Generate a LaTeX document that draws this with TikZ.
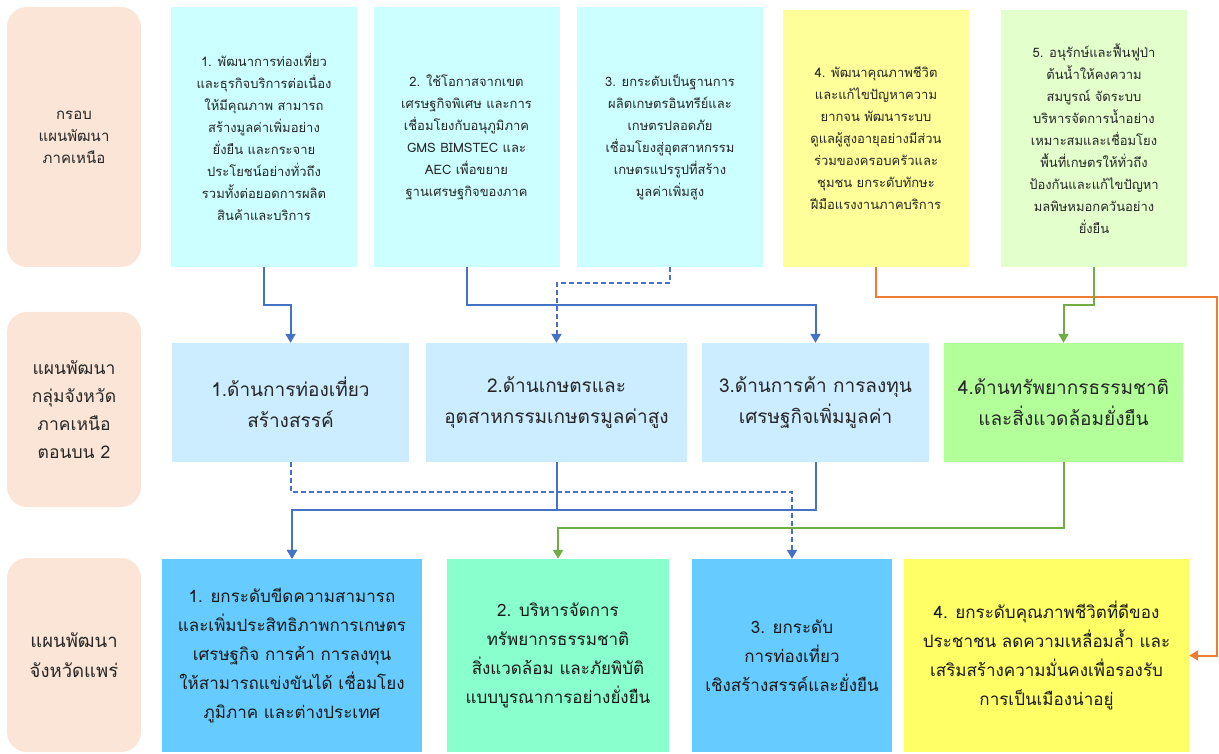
\documentclass[tikz,border=0pt]{standalone}
\usepackage{fontspec}
\setmainfont[Script=Thai]{Loma}
\usepackage{xcolor}
\usepackage{tikz}
\usetikzlibrary{arrows.meta,positioning,calc}
\definecolor{boxpeach}{RGB}{251,229,214}
\definecolor{boxcyan}{RGB}{204,255,255}
\definecolor{boxlemon}{RGB}{255,255,153}
\definecolor{boxpale}{RGB}{226,255,204}
\definecolor{boxsky}{RGB}{204,236,255}
\definecolor{boxlime}{RGB}{179,255,153}
\definecolor{boxblue}{RGB}{102,204,255}
\definecolor{boxmint}{RGB}{136,255,204}
\definecolor{boxyellow}{RGB}{255,255,102}
\definecolor{lineblue}{RGB}{68,114,196}
\definecolor{lineorange}{RGB}{237,125,49}
\definecolor{linegreen}{RGB}{112,173,71}
\tikzset{
  sidebox/.style={
    rectangle,
    rounded corners=20pt,
    fill=boxpeach,
    inner sep=0pt,
    minimum width=134pt,
    minimum height=195pt,
    align=center,
    text=black!85,
    font=\fontsize{17.5}{28}\selectfont
  },
  goalbox/.style={
    rectangle,
    fill=boxcyan,
    inner sep=0pt,
    minimum width=186pt,
    minimum height=260pt,
    align=center,
    text=black!85,
    font=\fontsize{13}{22}\selectfont
  },
  clusterbox/.style={
    rectangle,
    fill=boxsky,
    inner sep=0pt,
    minimum height=119pt,
    align=center,
    text=black!85,
    font=\fontsize{19}{31}\selectfont
  },
  provbox/.style={
    rectangle,
    fill=boxblue,
    inner sep=0pt,
    minimum height=193pt,
    align=center,
    text=black!90,
    font=\fontsize{17}{29}\selectfont
  },
  flow/.style={-{Triangle[width=10pt,length=9pt]}, line width=2pt, lineblue},
  dashflow/.style={-{Triangle[width=10pt,length=9pt]}, line width=2pt, lineblue, dash pattern=on 5pt off 3pt},
  orangeflow/.style={-{Triangle[width=10pt,length=9pt]}, line width=2pt, lineorange},
  greenflow/.style={-{Triangle[width=10pt,length=9pt]}, line width=2pt, linegreen}
}
\begin{document}
\begin{tikzpicture}[x=1pt,y=-1pt]
\useasboundingbox (0,0) rectangle (1219,754);
\node[sidebox, minimum height=260pt, font=\fontsize{15}{22}\selectfont] (lnorth) at (74,137) {กรอบ\\แผนพัฒนา\\ภาคเหนือ};
\node[sidebox] (lcluster) at (74,409.5) {แผนพัฒนา\\กลุ่มจังหวัด\\ภาคเหนือ\\ตอนบน 2};
\node[sidebox, minimum height=194pt, font=\fontsize{18.5}{30}\selectfont] (lprov) at (74,655) {แผนพัฒนา\\จังหวัดแพร่};

\node[goalbox] (t1) at (264,137) {1. พัฒนาการท่องเที่ยว\\และธุรกิจบริการต่อเนื่อง\\ให้มีคุณภาพ  สามารถ\\สร้างมูลค่าเพิ่มอย่าง\\ยั่งยืน และกระจาย\\ประโยชน์อย่างทั่วถึง\\รวมทั้งต่อยอดการผลิต\\สินค้าและบริการ};
\node[goalbox] (t2) at (466.5,137) {2. ใช้โอกาสจากเขต\\เศรษฐกิจพิเศษ  และการ\\เชื่อมโยงกับอนุภูมิภาค\\GMS BIMSTEC และ\\AEC เพื่อขยาย\\ฐานเศรษฐกิจของภาค};
\node[goalbox] (t3) at (670,137) {3. ยกระดับเป็นฐานการ\\ผลิตเกษตรอินทรีย์และ\\เกษตรปลอดภัย\\เชื่อมโยงสู่อุตสาหกรรม\\เกษตรแปรรูปที่สร้าง\\มูลค่าเพิ่มสูง};
\node[goalbox, fill=boxlemon, minimum height=257pt] (t4) at (876,138.5) {4. พัฒนาคุณภาพชีวิต\\และแก้ไขปัญหาความ\\ยากจน  พัฒนาระบบ\\ดูแลผู้สูงอายุอย่างมีส่วน\\ร่วมของครอบครัวและ\\ชุมชน  ยกระดับทักษะ\\ฝีมือแรงงานภาคบริการ};
\node[goalbox, fill=boxpale, minimum height=257pt] (t5) at (1094,138.5) {5. อนุรักษ์และฟื้นฟูป่า\\ต้นน้ำให้คงความ\\สมบูรณ์  จัดระบบ\\บริหารจัดการน้ำอย่าง\\เหมาะสมและเชื่อมโยง\\พื้นที่เกษตรให้ทั่วถึง\\ป้องกันและแก้ไขปัญหา\\มลพิษหมอกควันอย่าง\\ยั่งยืน};

\node[clusterbox, minimum width=237pt] (m1) at (290.5,402.5) {1.ด้านการท่องเที่ยว\\สร้างสรรค์};
\node[clusterbox, minimum width=261pt] (m2) at (556.5,402.5) {2.ด้านเกษตรและ\\อุตสาหกรรมเกษตรมูลค่าสูง};
\node[clusterbox, minimum width=227pt] (m3) at (815.5,402.5) {3.ด้านการค้า การลงทุน\\เศรษฐกิจเพิ่มมูลค่า};
\node[clusterbox, fill=boxlime, minimum width=239pt] (m4) at (1063.5,402.5) {4.ด้านทรัพยากรธรรมชาติ\\และสิ่งแวดล้อมยั่งยืน};

\node[provbox, minimum width=260pt] (b1) at (292,655.5) {1. ยกระดับขีดความสามารถ\\และเพิ่มประสิทธิภาพการเกษตร\\เศรษฐกิจ การค้า การลงทุน\\ให้สามารถแข่งขันได้ เชื่อมโยง\\ภูมิภาค และต่างประเทศ};
\node[provbox, fill=boxmint, minimum width=222pt] (b2) at (558,655.5) {2. บริหารจัดการ\\ทรัพยากรธรรมชาติ\\สิ่งแวดล้อม และภัยพิบัติ\\แบบบูรณาการอย่างยั่งยืน};
\node[provbox, minimum width=200pt] (b3) at (792,655.5) {3. ยกระดับ\\การท่องเที่ยว\\เชิงสร้างสรรค์และยั่งยืน};
\node[provbox, fill=boxyellow, minimum width=285pt] (b4) at (1046.5,655.5) {4. ยกระดับคุณภาพชีวิตที่ดีของ\\ประชาชน ลดความเหลื่อมล้ำ และ\\เสริมสร้างความมั่นคงเพื่อรองรับ\\การเป็นเมืองน่าอยู่};

\coordinate (upA) at (0,305);
\coordinate (upB) at (0,283);
\coordinate (upC) at (1217,297);
\coordinate (lowD) at (0,492);
\coordinate (lowE) at (0,510);
\coordinate (lowF) at (0,528);

\draw[orangeflow] (t4.south) -- (t4.south |- upC) -- (upC) -- (upC |- b4.east) -- (b4.east);
\draw[flow] (t1.south) -- (t1.south |- upA) -- (m1.north |- upA) -- (m1.north);
\draw[flow] (t2.south) -- (t2.south |- upA) -- (m3.north |- upA) -- (m3.north);
\draw[dashflow] (t3.south) -- (t3.south |- upB) -- (m2.north |- upB) -- (m2.north);
\draw[greenflow] (t5.south) -- (t5.south |- upA) -- (m4.north |- upA) -- (m4.north);

\draw[dashflow] (m1.south) -- (m1.south |- lowD) -- (b3.north |- lowD) -- (b3.north);
\draw[flow] (m3.south) -- (m3.south |- lowE) -- (b1.north |- lowE) -- (b1.north);
\draw[flow] (m2.south) -- (m2.south |- lowE) -- (b1.north |- lowE) -- (b1.north);
\draw[greenflow] (m4.south) -- (m4.south |- lowF) -- (b2.north |- lowF) -- (b2.north);
\end{tikzpicture}
\end{document}
